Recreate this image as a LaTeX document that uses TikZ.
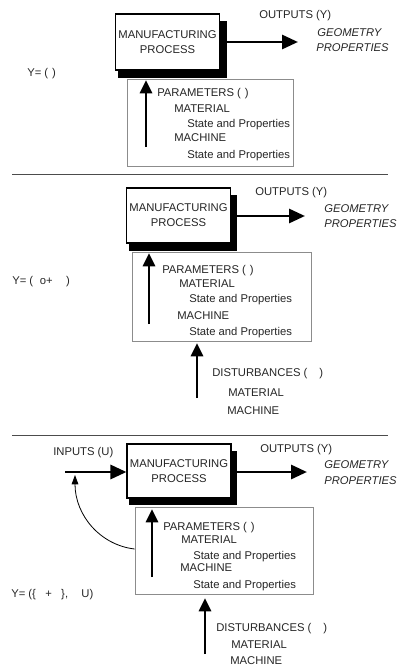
\documentclass[tikz,border=0pt]{standalone}
\usepackage{fontspec}
\setmainfont{Liberation Sans}
\usetikzlibrary{arrows.meta,backgrounds}
\begin{document}
\begin{tikzpicture}[x=0.75pt,y=-0.75pt,
  every node/.style={font=\fontsize{8.45}{11.25}\selectfont, text=black!85},
  txt/.style={anchor=west, inner sep=0pt, text height=6pt, text depth=0pt},
  itxt/.style={txt, font=\fontsize{8.45}{11.25}\selectfont\itshape},
  proc/.style={draw=black, line width=0.8pt, fill=white, align=center, inner sep=0pt, minimum width=77.5pt},
  parbox/.style={draw=black!45, line width=0.6pt, fill=white, inner sep=0pt},
  bigarrow/.style={line width=2.2pt, -{Triangle[length=12pt,width=10.5pt]}},
  uparrow/.style={line width=2.2pt, -{Triangle[length=10pt,width=9pt]}},
  thinarrow/.style={line width=0.6pt, -{Triangle[length=7pt,width=5pt]}},
  sepline/.style={line width=0.6pt, draw=black!70},
  shadowfill/.style={fill=black}
]
\useasboundingbox (0,0) rectangle (397,667);

% ---------------- Section 1 ----------------
\node[proc, minimum height=42pt] (proc1) at (167.5,42) {MANUFACTURING\\PROCESS};
\begin{scope}[on background layer]
  \fill[shadowfill] ([shift={(3,8)}]proc1.north west) rectangle ([shift={(7,7)}]proc1.south east);
\end{scope}
\coordinate (o1) at (298,42);
\draw[bigarrow] (proc1.east) -- (o1);
\node[txt] (out1) at (259,15) {OUTPUTS (Y)};
\node[itxt] (geo1) at (317,33) {GEOMETRY};
\node[itxt] (prop1) at (316,48) {PROPERTIES};
\node[txt] (eq1) at (27,73) {Y=~(\hspace{3pt})};
\node[parbox, minimum width=124.5pt, minimum height=65.25pt] (par1) at (210,122.5) {};
\coordinate (p1a) at (146,147);
\coordinate (p1b) at (146,80);
\draw[uparrow] (p1a) -- (p1b);
\node[txt] (pa1) at (157,93) {PARAMETERS (\hspace{3pt})};
\node[txt] (ma1) at (174,108) {MATERIAL};
\node[txt] (sp1) at (187,123) {State and Properties};
\node[txt] (mc1) at (174,137) {MACHINE};
\node[txt] (sq1) at (187,154) {State and Properties};

\coordinate (s1a) at (12,174);
\coordinate (s1b) at (388,174);
\draw[sepline] (s1a) -- (s1b);

% ---------------- Section 2 ----------------
\node[proc, minimum height=41.25pt] (proc2) at (178.5,215.5) {MANUFACTURING\\PROCESS};
\begin{scope}[on background layer]
  \fill[shadowfill] ([shift={(3,8)}]proc2.north west) rectangle ([shift={(6,7)}]proc2.south east);
\end{scope}
\coordinate (o2) at (305,216);
\draw[bigarrow] (proc2.east |- o2) -- (o2);
\node[txt] (out2) at (255,191) {OUTPUTS (Y)};
\node[itxt] (geo2) at (324,208) {GEOMETRY};
\node[itxt] (prop2) at (324,223) {PROPERTIES};
\node[txt] (eq2) at (12,280) {Y=~(\hspace{5pt}o+\hspace{10pt})};
\node[parbox, minimum width=134.25pt, minimum height=66.75pt] (par2) at (221.5,296.5) {};
\coordinate (p2a) at (149,324);
\coordinate (p2b) at (149,253);
\draw[uparrow] (p2a) -- (p2b);
\node[txt] (pa2) at (162,269) {PARAMETERS (\hspace{3pt})};
\node[txt] (ma2) at (179,283) {MATERIAL};
\node[txt] (sp2) at (189,298) {State and Properties};
\node[txt] (mc2) at (177,315) {MACHINE};
\node[txt] (sq2) at (189,331) {State and Properties};
\coordinate (d2a) at (197,398);
\coordinate (d2b) at (197,343);
\draw[uparrow] (d2a) -- (d2b);
\node[txt] (di2) at (212,372) {DISTURBANCES (\hspace{9pt})};
\node[txt] (dm2) at (228,392) {MATERIAL};
\node[txt] (dc2) at (227,410) {MACHINE};

\coordinate (s2a) at (12,435);
\coordinate (s2b) at (388,435);
\draw[sepline] (s2a) -- (s2b);

% ---------------- Section 3 ----------------
\node[proc, minimum width=78pt, minimum height=40.5pt] (proc3) at (179,471) {MANUFACTURING\\PROCESS};
\begin{scope}[on background layer]
  \fill[shadowfill] ([shift={(3,8)}]proc3.north west) rectangle ([shift={(5,6)}]proc3.south east);
\end{scope}
\coordinate (i3) at (65,472);
\draw[bigarrow] (i3) -- (proc3.west |- i3);
\node[txt] (in3) at (53,451) {INPUTS (U)};
\coordinate (o3) at (307,472);
\draw[bigarrow] (proc3.east |- o3) -- (o3);
\node[txt] (out3) at (260,448) {OUTPUTS (Y)};
\node[itxt] (geo3) at (324,464) {GEOMETRY};
\node[itxt] (prop3) at (324,480) {PROPERTIES};
\node[parbox, minimum width=133.5pt, minimum height=65.25pt] (par3) at (224,550.5) {};
\coordinate (p3a) at (152,577);
\coordinate (p3b) at (152,509);
\draw[uparrow] (p3a) -- (p3b);
\node[txt] (pa3) at (163,526) {PARAMETERS (\hspace{3pt})};
\node[txt] (ma3) at (181,539) {MATERIAL};
\node[txt] (sp3) at (193,555) {State and Properties};
\node[txt] (mc3) at (180,567) {MACHINE};
\node[txt] (sq3) at (193,584) {State and Properties};
\coordinate (fb3) at (75,475);
\draw[thinarrow] (par3.west |- 0,549) .. controls (100,545) and (75,515) .. (fb3);
\node[txt] (eq3) at (11,593) {Y=~(\{\hspace{7pt}+\hspace{7pt}\},\hspace{10pt}U)};
\coordinate (d3a) at (205,654);
\coordinate (d3b) at (205,598);
\draw[uparrow] (d3a) -- (d3b);
\node[txt] (di3) at (216,627) {DISTURBANCES (\hspace{9pt})};
\node[txt] (dm3) at (231,644) {MATERIAL};
\node[txt] (dc3) at (230,660) {MACHINE};
\end{tikzpicture}
\end{document}
